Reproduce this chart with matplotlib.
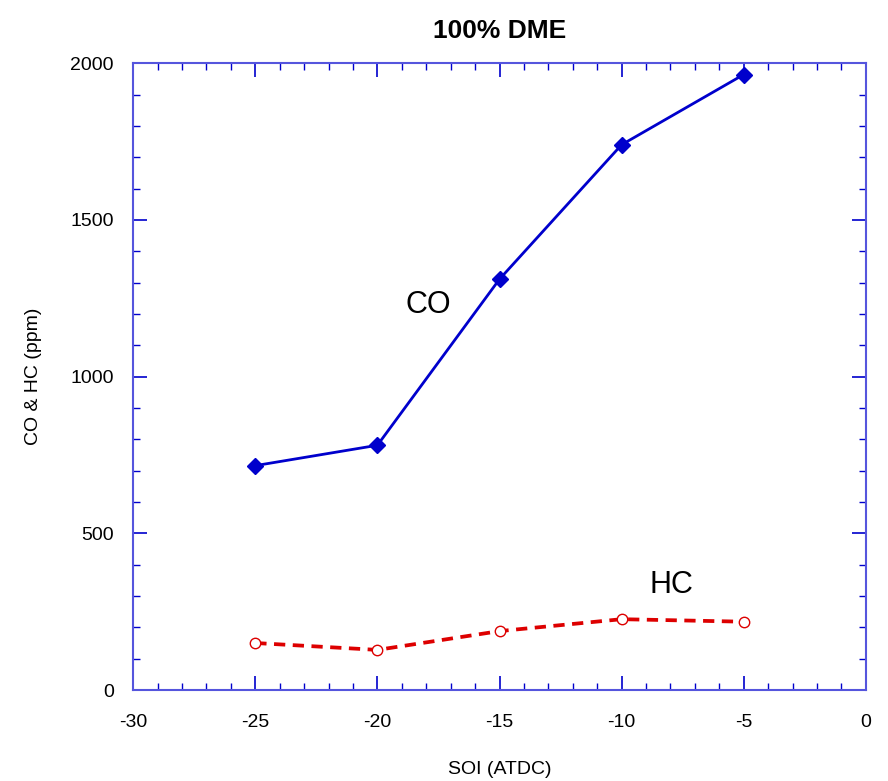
import matplotlib
matplotlib.use('Agg')
import matplotlib.pyplot as plt
from matplotlib.ticker import MultipleLocator

plt.rcParams['font.family'] = ['Liberation Sans', 'DejaVu Sans']
plt.rcParams['axes.unicode_minus'] = False

soi = [-25, -20, -15, -10, -5]
co = [716, 781, 1311, 1740, 1964]
hc = [150, 128, 188, 226, 218]

fig = plt.figure(figsize=(8.88, 7.81), dpi=100)
ax = fig.add_axes([0.150, 0.1165, 0.825, 0.8025])

ax.plot(soi, co, color='#0000cc', lw=2, marker='D', ms=8.5, mfc='#0000cc', mec='#0000cc')
ax.plot(soi, hc, color='#dd0000', lw=2.7, ls=(0, (3, 2)), marker='o', ms=7.5,
        mfc='white', mec='#dd0000', mew=1)

ax.text(-17.9, 1228, 'CO', fontsize=22, ha='center', va='center')
ax.text(-7.95, 335, 'HC', fontsize=22, ha='center', va='center')

ax.set_xlim(-30, 0)
ax.set_ylim(0, 2000)
ax.xaxis.set_major_locator(MultipleLocator(5))
ax.xaxis.set_minor_locator(MultipleLocator(1))
ax.yaxis.set_major_locator(MultipleLocator(500))
ax.yaxis.set_minor_locator(MultipleLocator(100))
ax.tick_params(which='both', direction='in', top=True, right=True, color='#0000cc')
ax.tick_params(which='major', length=10, width=1.2, labelsize=14)
ax.tick_params(which='minor', length=5, width=1)
ax.tick_params(axis='x', which='major', pad=17)
ax.tick_params(axis='y', which='major', pad=14)
for s in ax.spines.values():
    s.set_color('#5555dd')
    s.set_linewidth(1.5)

ax.set_xlabel('SOI (ATDC)', fontsize=14, labelpad=22)
ax.set_ylabel('CO & HC (ppm)', fontsize=14, labelpad=20)
ax.set_title('100% DME', fontsize=19, fontweight='bold', pad=18)

fig.savefig('out.png', dpi=100)
